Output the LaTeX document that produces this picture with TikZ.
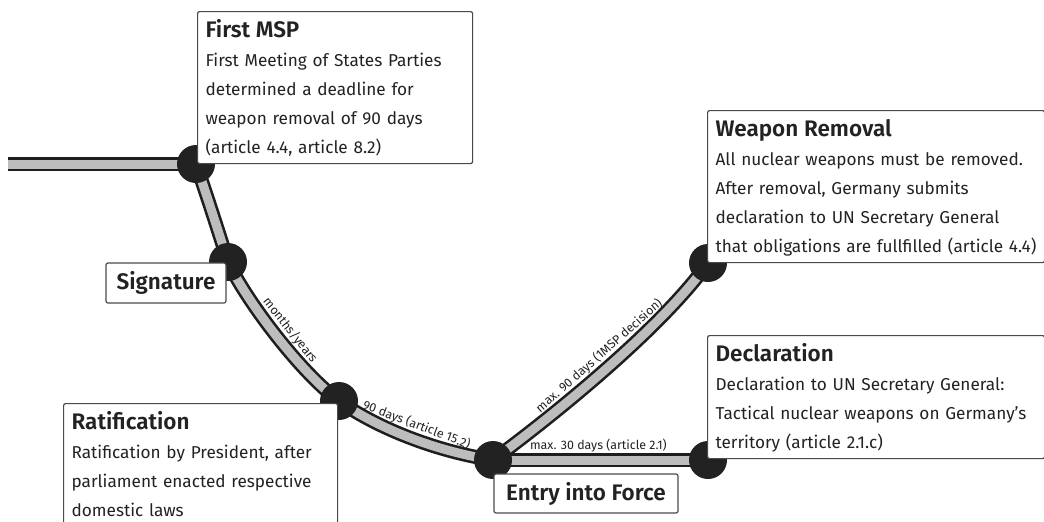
\documentclass[tikz,border=0pt]{standalone}
\usepackage{fontspec}
\IfFontExistsTF{Fira Sans SemiBold}{\setmainfont{Fira Sans}[BoldFont={Fira Sans SemiBold}]}{\setmainfont{Fira Sans}}
\usetikzlibrary{positioning}
\pgfdeclarelayer{bg}
\pgfsetlayers{bg,main}
\definecolor{trackc}{HTML}{1E1E1E}
\definecolor{railc}{HTML}{BDBDBD}
\definecolor{dotc}{HTML}{222222}
\definecolor{boxc}{HTML}{4A4A4A}
\definecolor{textc}{HTML}{222222}
\newcommand\bodyf{\fontsize{17.2}{29}\selectfont}
\newcommand\titlef{\fontsize{22.5}{26}\selectfont\bfseries}
\newcommand\labf{\fontsize{12.4}{14}\selectfont}
\newcommand\headline[1]{{\titlef\rule{0pt}{26pt}#1}}
\newcommand\lastline{\rule[-10pt]{0pt}{10pt}}
\tikzset{
  stop/.style={circle, fill=dotc, inner sep=0pt, minimum size=38pt},
  infobox/.style={draw=boxc, line width=1.2pt, rounded corners=2pt, fill=white,
    anchor=north west, align=left, inner xsep=8pt, inner ysep=0pt, font=\bodyf, text=textc},
  tagbox/.style={draw=boxc, line width=1.2pt, rounded corners=2pt, fill=white,
    font=\titlef, text=textc, inner sep=0pt},
  track/.style={line width=2.6pt, draw=trackc, double=railc, double distance=9pt},
  steplabel/.style={font=\labf, text=textc, sloped, above=10.5pt, inner sep=0pt, anchor=base}
}
\begin{document}
\begin{tikzpicture}[x=1pt,y=-1pt]
\useasboundingbox (0,0) rectangle (1044,522);
% stops
\node[stop] (n1) at (196,164) {};
\node[stop] (n2) at (228,262) {};
\node[stop] (n3) at (339,401) {};
\node[stop] (n4) at (493,460) {};
\node[stop] (n5) at (708,263) {};
\node[stop] (n6) at (708,460) {};
\coordinate (start) at (8,164);
% tracks
\begin{pgfonlayer}{bg}
\draw[track] (start) -- (n1.center);
\draw[track] (n1.center) .. controls (207,196) and (218,230) .. (n2.center);
\draw[track] (n2.center) .. controls (246,300) and (299,371) .. (n3.center)
  node[steplabel, pos=0.53] {months/years};
\draw[track] (n3.center) .. controls (380,430) and (440,452) .. (n4.center)
  node[steplabel, pos=0.5] {90 days (article 15.2)};
\draw[track] (n4.center) .. controls (550,418) and (660,330) .. (n5.center)
  node[steplabel, pos=0.52] {max. 90 days (1MSP decision)};
\draw[track] (n4.center) -- (n6.center)
  node[steplabel, pos=0.49] {max. 30 days (article 2.1)};
\end{pgfonlayer}
% boxes
\node[infobox, text width=259pt] (msp) at (197,11) {\headline{First MSP}\\
  First Meeting of States Parties\\
  determined a deadline for\\
  weapon removal of 90 days\\
  (article 4.4, article 8.2)\lastline};
\node[tagbox, minimum width=120pt, minimum height=40pt] (sig) at (166,283) {Signature};
\node[infobox, text width=258pt] (rat) at (63,403) {\headline{Ratification}\\
  Ratification by President, after\\
  parliament enacted respective\\
  domestic laws\lastline};
\node[tagbox, minimum width=184pt, minimum height=39pt] (eif) at (586,493.5) {Entry into Force};
\node[infobox, text width=321pt] (wr) at (707,110) {\headline{Weapon Removal}\\
  All nuclear weapons must be removed.\\
  After removal, Germany submits\\
  declaration to UN Secretary General\\
  that obligations are fullfilled (article 4.4)\lastline};
\node[infobox, text width=321pt] (dec) at (707,335) {\headline{Declaration}\\
  Declaration to UN Secretary General:\\
  Tactical nuclear weapons on Germany’s\\
  territory (article 2.1.c)\lastline};
\end{tikzpicture}
\end{document}
